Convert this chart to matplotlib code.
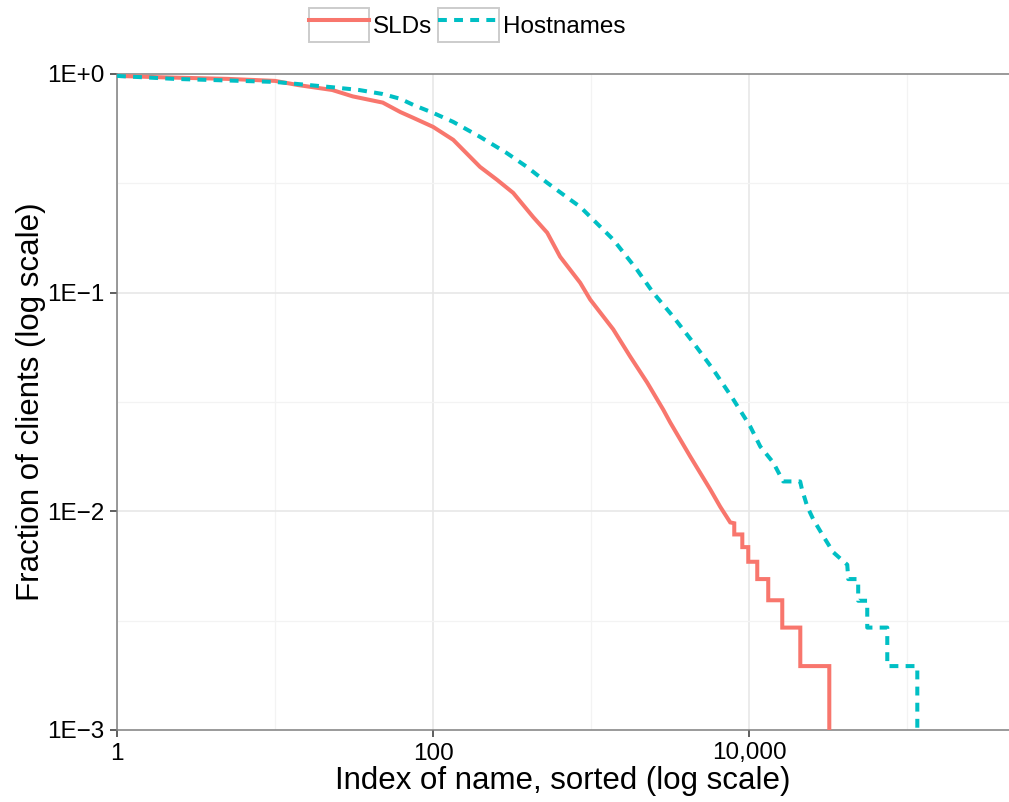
import matplotlib
matplotlib.use("Agg")
import matplotlib.pyplot as plt
from matplotlib.legend_handler import HandlerLine2D
from matplotlib.patches import Rectangle

plt.rcParams['font.family'] = ['Liberation Sans', 'DejaVu Sans']

# ---- data ----
sld_index = [1, 2, 5, 10, 14, 23, 31, 48, 62, 75, 100, 134, 198, 254, 321, 429, 527, 636,
             852, 986, 1378, 1766, 2261, 2855, 3162, 4236, 5666, 6550, 7580,
             8040, 8040, 9040, 9040, 9860, 9860, 11240, 11240, 13190, 13190,
             16180, 16180, 21040, 21040, 32100, 32100]
sld_frac = [0.98, 0.965, 0.95, 0.93, 0.89, 0.845, 0.79, 0.74, 0.67, 0.63, 0.573, 0.50, 0.376,
            0.328, 0.286, 0.222, 0.188, 0.146, 0.111, 0.093, 0.068, 0.051, 0.0388, 0.0292,
            0.0255, 0.0178, 0.0126, 0.0105, 0.0089,
            0.00882, 0.00784, 0.00784, 0.00686, 0.00686, 0.00588, 0.00588, 0.0049, 0.0049,
            0.00392, 0.00392, 0.00294, 0.00294, 0.00196, 0.00196, 0.00098]

host_index = [1, 2.3, 10, 23, 34, 48, 62, 75, 100, 134, 198, 291, 392, 527, 738, 852, 1378,
              1954, 2466, 3302, 4424, 5918, 7925, 10130, 11740, 14200, 16400, 21000, 21500,
              23300, 25400, 29400, 34000, 41700, 42300, 48900, 48900, 55800, 55800,
              74700, 74700, 115700, 115700]
host_frac = [0.98, 0.95, 0.92, 0.87, 0.845, 0.81, 0.77, 0.722, 0.664, 0.604, 0.516, 0.436,
             0.376, 0.318, 0.266, 0.247, 0.175, 0.127, 0.100, 0.0777, 0.0591, 0.0445, 0.0325,
             0.0245, 0.0198, 0.0167, 0.0137, 0.0137, 0.0127, 0.0105, 0.0092, 0.0077, 0.0065,
             0.0057, 0.0049, 0.0049, 0.0039, 0.0039, 0.00294, 0.00294, 0.00196, 0.00196,
             0.00098]

series_labels = ["SLDs", "Hostnames"]
x_ticks = [1, 100, 10000]
x_tick_labels = ["1", "100", "10,000"]
y_ticks = [1e-3, 1e-2, 1e-1, 1e0]
y_tick_labels = ["1E\u22123", "1E\u22122", "1E\u22121", "1E+0"]

RED = "#F8766D"
CYAN = "#00BFC4"

fig = plt.figure(figsize=(10.09, 8.02), dpi=100)
ax = fig.add_axes([117 / 1009, 1 - 730 / 802, 1 - 117 / 1009, (730 - 74) / 802])

ax.set_xscale('log')
ax.set_yscale('log')
ax.set_xlim(1, 4.4e5)
ax.set_ylim(1e-3, 1.0)

# grid
for v in [10, 1000, 100000]:
    ax.axvline(v, color='#f3f3f3', lw=0.9, zorder=0)
for v in [1, 100, 10000]:
    ax.axvline(v, color='#e6e6e6', lw=1.1, zorder=0)
for v in [10 ** -0.5, 10 ** -1.5, 10 ** -2.5]:
    ax.axhline(v, color='#f3f3f3', lw=0.9, zorder=0)
for v in [1e-1, 1e-2]:
    ax.axhline(v, color='#e6e6e6', lw=1.1, zorder=0)

l1, = ax.plot(sld_index, sld_frac, color=RED, lw=2.9, solid_joinstyle='miter',
              label=series_labels[0], zorder=3)
l2, = ax.plot(host_index, host_frac, color=CYAN, lw=2.9, linestyle=(0, (2.2, 1.8)),
              label=series_labels[1], zorder=4)

ax.set_xticks(x_ticks)
ax.set_xticklabels(x_tick_labels)
ax.set_yticks(y_ticks)
ax.set_yticklabels(y_tick_labels)
ax.minorticks_off()
ax.tick_params(axis='both', which='major', direction='out', length=5, width=1.1,
               color='#333333', labelsize=17.5, pad=4, labelcolor='black')

for s in ['left', 'bottom', 'top']:
    ax.spines[s].set_color('#7f7f7f')
    ax.spines[s].set_linewidth(1.1)
ax.spines['right'].set_visible(False)

ax.set_xlabel("Index of name, sorted (log scale)", fontsize=22.5, labelpad=1)
ax.set_ylabel("Fraction of clients (log scale)", fontsize=22.5, labelpad=1)


class BoxedHandler(HandlerLine2D):
    def create_artists(self, legend, orig_handle, xdescent, ydescent, width, height,
                       fontsize, trans):
        arts = super().create_artists(legend, orig_handle, xdescent, ydescent, width,
                                      height, fontsize, trans)
        rect = Rectangle((-xdescent, -ydescent), width, height, facecolor='white',
                         edgecolor='#cccccc', lw=1.4, transform=trans)
        return [rect] + list(arts)


leg = fig.legend(handles=[l1, l2], loc='center', bbox_to_anchor=(467 / 1009, 1 - 25 / 802),
                 ncol=2, frameon=False, fontsize=17.5, handlelength=2.5, handleheight=1.8,
                 handletextpad=0.15, columnspacing=0.25, borderpad=0.1,
                 handler_map={l1: BoxedHandler(), l2: BoxedHandler()})

fig.savefig("out.png", dpi=100)
